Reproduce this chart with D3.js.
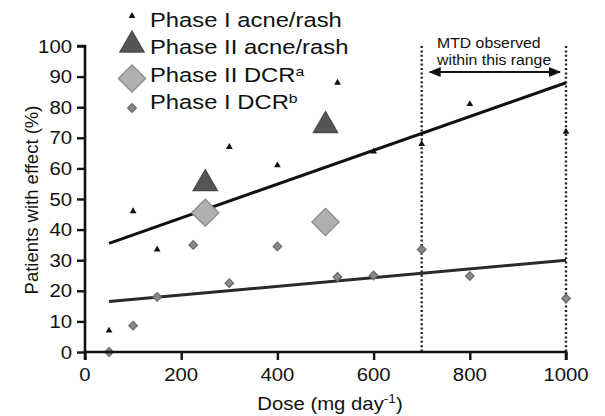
<!DOCTYPE html>
<html>
<head>
<meta charset="utf-8">
<script src="https://cdn.jsdelivr.net/npm/d3@7"></script>
<style>
  html, body { margin: 0; padding: 0; background: #fff; }
  svg { display: block; font-family: "Liberation Sans", Arial, sans-serif; }
</style>
</head>
<body>
<svg id="chart" width="605" height="416"></svg>
<script>
// Dose (mg/day) and percentage of patients with effect
const phase1RashDose   = [50, 100, 150, 300, 400, 525, 600, 700, 800, 1000];
const phase1RashPct    = [7, 46, 33.5, 67, 61, 88, 65.5, 68, 81, 72];
const phase2RashDose   = [250, 500];
const phase2RashPct    = [55, 74];
const phase2DcrDose    = [250, 500];
const phase2DcrPct     = [45.5, 42.5];
const phase1DcrDose    = [50, 100, 150, 225, 300, 400, 525, 600, 700, 800, 1000];
const phase1DcrPct     = [0, 8.6, 18, 35, 22.5, 34.5, 24.5, 25, 33.5, 24.8, 17.5];

// Linear trend lines (start and end points)
const rashTrendDose = [50, 1000];
const rashTrendPct  = [35.5, 88];
const dcrTrendDose  = [50, 1000];
const dcrTrendPct   = [16.5, 30];

// MTD range
const mtdRange = [700, 1000];

const xTicks = [0, 200, 400, 600, 800, 1000];
const yTicks = [0, 10, 20, 30, 40, 50, 60, 70, 80, 90, 100];

const legendLabels = ["Phase I acne/rash", "Phase II acne/rash", "Phase II DCR", "Phase I DCR"];
const legendSups   = ["", "", "a", "b"];

const SX = 1.13; // horizontal widening of text glyphs

const svg = d3.select("#chart");
const x = d3.scaleLinear().domain([0, 1000]).range([85, 566]);
const y = d3.scaleLinear().domain([0, 100]).range([352, 46]);

// widened text helper
function wtext(g, tx, ty, str, size, anchor, sx) {
  const t = g.append("text")
    .attr("transform", `translate(${tx},${ty}) scale(${sx || SX},1)`)
    .attr("font-size", size)
    .attr("fill", "#111")
    .attr("text-anchor", anchor || "start")
    .text(str);
  return t;
}

// marker styles
const styles = {
  p1rash: { shape: d3.symbolTriangle, size: 20, fill: "#111", stroke: "none", rot: 0 },
  p2rash: { shape: d3.symbolTriangle, size: 255, fill: "#555", stroke: "#4a4a4a", rot: 0 },
  p2dcr:  { shape: d3.symbolSquare, size: 370, fill: "#b0b0b0", stroke: "#8a8a8a", rot: 45 },
  p1dcr:  { shape: d3.symbolSquare, size: 36, fill: "#8a8a8a", stroke: "#6a6a6a", rot: 45 }
};

function drawPoints(dose, pct, st) {
  const data = dose.map((d, i) => ({ d, p: pct[i] }));
  svg.append("g").selectAll("path").data(data).join("path")
    .attr("d", d3.symbol().type(st.shape).size(st.size))
    .attr("transform", v => `translate(${x(v.d)},${y(v.p)}) rotate(${st.rot})`)
    .attr("fill", st.fill)
    .attr("stroke", st.stroke)
    .attr("stroke-width", st.stroke === "none" ? 0 : 1.3);
}

// dotted MTD boundary lines
svg.append("g").selectAll("line").data(mtdRange).join("line")
  .attr("x1", d => x(d)).attr("x2", d => x(d))
  .attr("y1", y(100)).attr("y2", y(0))
  .attr("stroke", "#222").attr("stroke-width", 2.4)
  .attr("stroke-dasharray", "2,2.4");

// double-headed arrow
const defs = svg.append("defs");
defs.append("marker").attr("id", "ah").attr("viewBox", "0 0 12 10")
  .attr("refX", 11).attr("refY", 5).attr("markerWidth", 12).attr("markerHeight", 10)
  .attr("markerUnits", "userSpaceOnUse").attr("orient", "auto-start-reverse")
  .append("path").attr("d", "M0,0 L12,5 L0,10 Z").attr("fill", "#111");
svg.append("line")
  .attr("x1", x(mtdRange[0]) + 8).attr("x2", x(mtdRange[1]) - 6)
  .attr("y1", y(91.5)).attr("y2", y(91.5))
  .attr("stroke", "#111").attr("stroke-width", 2)
  .attr("marker-start", "url(#ah)").attr("marker-end", "url(#ah)");
const ann = svg.append("g");
wtext(ann, 437, 48, "MTD observed", 14);
wtext(ann, 437, 65, "within this range", 14);

// trend lines
const line = d3.line().x(v => x(v[0])).y(v => y(v[1]));
svg.append("path").datum(rashTrendDose.map((d, i) => [d, rashTrendPct[i]]))
  .attr("d", line).attr("fill", "none").attr("stroke", "#111").attr("stroke-width", 3);
svg.append("path").datum(dcrTrendDose.map((d, i) => [d, dcrTrendPct[i]]))
  .attr("d", line).attr("fill", "none").attr("stroke", "#2a2a2a").attr("stroke-width", 3);

// data markers
drawPoints(phase1DcrDose, phase1DcrPct, styles.p1dcr);
drawPoints(phase1RashDose, phase1RashPct, styles.p1rash);
drawPoints(phase2DcrDose, phase2DcrPct, styles.p2dcr);
drawPoints(phase2RashDose, phase2RashPct, styles.p2rash);

// axes
const yAxis = svg.append("g").attr("transform", `translate(${x(0)},0)`)
  .call(d3.axisLeft(y).tickValues(yTicks).tickSize(8).tickPadding(6).tickFormat(d3.format("d")));
const xAxis = svg.append("g").attr("transform", `translate(0,${y(0)})`)
  .call(d3.axisBottom(x).tickValues(xTicks).tickSize(8).tickPadding(6).tickFormat(d3.format("d")));
[yAxis, xAxis].forEach(a => {
  a.select(".domain").attr("stroke", "#111").attr("stroke-width", 2.6);
  a.selectAll(".tick line").attr("stroke", "#111").attr("stroke-width", 2.4);
  a.selectAll(".tick text").remove();
});
yAxis.select(".domain").attr("d", `M-8,${y(100)}H0V${y(0)}`);
xAxis.select(".domain").attr("d", `M${x(0)},8V0H${x(1000)}V8`);

const tl = svg.append("g");
yTicks.forEach(v => wtext(tl, 72, y(v) + 6.5, String(v), 18, "end"));
xTicks.forEach(v => wtext(tl, x(v), 381, String(v), 18, "middle"));

// axis titles
const xt = wtext(svg, 330, 410, "", 18, "middle");
xt.append("tspan").text("Dose (mg day");
xt.append("tspan").attr("font-size", 12).attr("dy", -7).text("-1");
xt.append("tspan").attr("dy", 7).text(")");

svg.append("text")
  .attr("transform", `translate(38,200) rotate(-90)`)
  .attr("font-size", 18.5).attr("fill", "#111").attr("text-anchor", "middle")
  .text("Patients with effect (%)");

// legend
const legendKeys = ["p1rash", "p2rash", "p2dcr", "p1dcr"];
const legendY = [16, 45, 78.5, 108];
const legendBase = [26.7, 53.5, 81.5, 108.5];
const lg = svg.append("g");
legendKeys.forEach((k, i) => {
  const st = styles[k];
  lg.append("path")
    .attr("d", d3.symbol().type(st.shape).size(st.size))
    .attr("transform", `translate(132,${legendY[i]}) rotate(${st.rot})`)
    .attr("fill", st.fill).attr("stroke", st.stroke)
    .attr("stroke-width", st.stroke === "none" ? 0 : 1.3);
  const t = wtext(lg, 150, legendBase[i], "", 19.5, "start", 1.22);
  t.append("tspan").text(legendLabels[i]);
  if (legendSups[i]) t.append("tspan").attr("font-size", 13).attr("dy", -6).text(legendSups[i]);
});
</script>
</body>
</html>
